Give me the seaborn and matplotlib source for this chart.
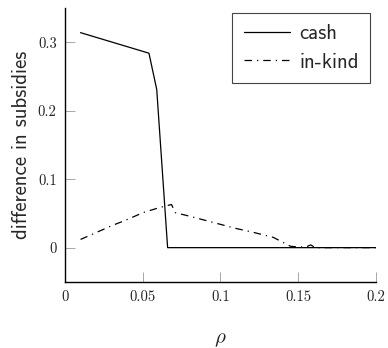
import numpy as np
import pandas as pd
import matplotlib; matplotlib.use("Agg")
import matplotlib.pyplot as plt
import seaborn as sns

sns.set_theme(style="white")
plt.rcParams["mathtext.fontset"] = "cm"
plt.rcParams["axes.formatter.use_mathtext"] = True

# difference in subsidies vs rho
cash_rho = [0.01, 0.054, 0.059, 0.066, 0.1, 0.15, 0.2]
cash_val = [0.314, 0.284, 0.231, 0.0, 0.0, 0.0, 0.0]

kind_rho = [0.01, 0.02, 0.03, 0.04, 0.05, 0.06, 0.065, 0.0685, 0.071, 0.08,
            0.09, 0.1, 0.11, 0.12, 0.134, 0.145, 0.15, 0.155, 0.158, 0.161,
            0.17, 0.18, 0.19, 0.2]
kind_val = [0.012, 0.022, 0.032, 0.041, 0.051, 0.058, 0.061, 0.063, 0.051, 0.046,
            0.040, 0.034, 0.028, 0.023, 0.015, 0.002, 0.001, 0.001, 0.004, 0.0,
            0.0, 0.0, 0.0, 0.0]

xticks = [0, 0.05, 0.1, 0.15, 0.2]
xticklabels = ["0", "0.05", "0.1", "0.15", "0.2"]
yticks = [0, 0.1, 0.2, 0.3]
yticklabels = ["0", "0.1", "0.2", "0.3"]

cash_df = pd.DataFrame({"rho": cash_rho, "diff": cash_val})
kind_df = pd.DataFrame({"rho": kind_rho, "diff": kind_val})

DASHDOT = (6, 4, 1, 4)

fig = plt.figure(figsize=(3.88, 3.48), dpi=100)
ax = fig.add_axes([0.1675, 0.19, 0.8015, 0.787])

sns.lineplot(data=cash_df, x="rho", y="diff", color="black", linewidth=0.9,
             label="cash", ax=ax)
sns.lineplot(data=kind_df, x="rho", y="diff", color="black", linewidth=0.9,
             label="in-kind", ax=ax)
ax.lines[1].set_dashes(DASHDOT)

ax.set_xlim(0, 0.2)
ax.set_ylim(-0.05, 0.35)
ax.set_xticks(xticks)
ax.set_xticklabels(xticklabels, fontfamily="cmr10", fontsize=10.5)
ax.set_yticks(yticks)
ax.set_yticklabels(yticklabels, fontfamily="cmr10", fontsize=10.5)
ax.tick_params(direction="in", length=7, width=0.6, color="#999999",
               labelcolor="#222222", pad=6)
ax.tick_params(axis="both", which="both", bottom=True, left=True)

ax.set_xlabel(r"$\rho$", fontsize=15, labelpad=18)
ax.set_ylabel("difference in subsidies", fontfamily="cmss10", fontsize=15, labelpad=5)

for s in ["top", "right"]:
    ax.spines[s].set_visible(False)
for s in ["left", "bottom"]:
    ax.spines[s].set_color("black")
    ax.spines[s].set_linewidth(1.0)

leg = ax.legend(loc="upper right", bbox_to_anchor=(0.981, 0.982), frameon=True,
                fancybox=False, edgecolor="#444444", framealpha=1,
                prop={"family": "cmss10", "size": 15}, handlelength=2.2,
                handletextpad=0.45, borderpad=0.55, labelspacing=0.45,
                borderaxespad=0)
leg.get_frame().set_linewidth(0.8)
leg.get_lines()[1].set_dashes(DASHDOT)

fig.savefig("out.png", dpi=100)
